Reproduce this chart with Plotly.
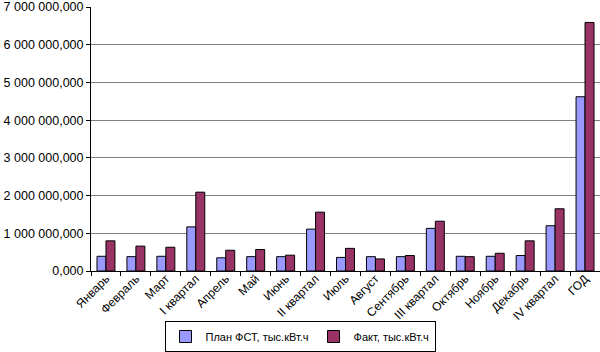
import plotly.graph_objects as go

categories = ["Январь", "Февраль", "Март", "I квартал", "Апрель", "Май", "Июнь",
              "II квартал", "Июль", "Август", "Сентябрь", "III квартал", "Октябрь",
              "Ноябрь", "Декабрь", "IV квартал", "ГОД"]
plan = [0.39e9, 0.38e9, 0.39e9, 1.17e9, 0.35e9, 0.38e9, 0.38e9, 1.11e9, 0.36e9,
        0.38e9, 0.38e9, 1.13e9, 0.39e9, 0.39e9, 0.41e9, 1.20e9, 4.62e9]
fact = [0.80e9, 0.66e9, 0.63e9, 2.09e9, 0.55e9, 0.57e9, 0.42e9, 1.56e9, 0.60e9,
        0.32e9, 0.41e9, 1.32e9, 0.38e9, 0.47e9, 0.80e9, 1.65e9, 6.59e9]
y_tickvals = [0, 1e9, 2e9, 3e9, 4e9, 5e9, 6e9, 7e9]
y_ticktext = ["0,000", "1 000 000,000", "2 000 000,000", "3 000 000,000",
              "4 000 000,000", "5 000 000,000", "6 000 000,000", "7 000 000,000"]

fig = go.Figure()
fig.add_trace(go.Bar(x=categories, y=plan, name="План ФСТ, тыс.кВт.ч",
                     marker=dict(color="#9999FF", line=dict(color="black", width=1))))
fig.add_trace(go.Bar(x=categories, y=fact, name="Факт, тыс.кВт.ч",
                     marker=dict(color="#993366", line=dict(color="black", width=1))))

fig.update_layout(
    width=600, height=352,
    margin=dict(l=91, r=0, t=7, b=81),
    paper_bgcolor="white", plot_bgcolor="white",
    barmode="group", bargap=0.4, bargroupgap=0,
    font=dict(family="Liberation Sans, Arial", size=12, color="black"),
    showlegend=True,
    legend=dict(orientation="h", xref="container", yref="container",
                x=0.5, xanchor="center", y=-0.003, yanchor="bottom",
                bordercolor="black", borderwidth=1, bgcolor="white",
                font=dict(size=11), itemwidth=30, tracegroupgap=0),
    xaxis=dict(type="category", tickangle=-45, showline=True, linecolor="black",
               linewidth=1, ticks="outside", ticklen=4, tickcolor="black",
               tickson="boundaries", showgrid=False, tickfont=dict(size=12),
               automargin=False, ticklabelstandoff=-5),
    yaxis=dict(range=[0, 7e9], tickvals=y_tickvals, ticktext=y_ticktext,
               showline=True, linecolor="black", linewidth=1, ticks="outside",
               ticklen=4, tickcolor="black", showgrid=True, gridcolor="#808080",
               gridwidth=1, zeroline=False, tickfont=dict(size=12.5),
               ticklabeloverflow="allow", automargin=False),
)

fig.write_html("out.html")
